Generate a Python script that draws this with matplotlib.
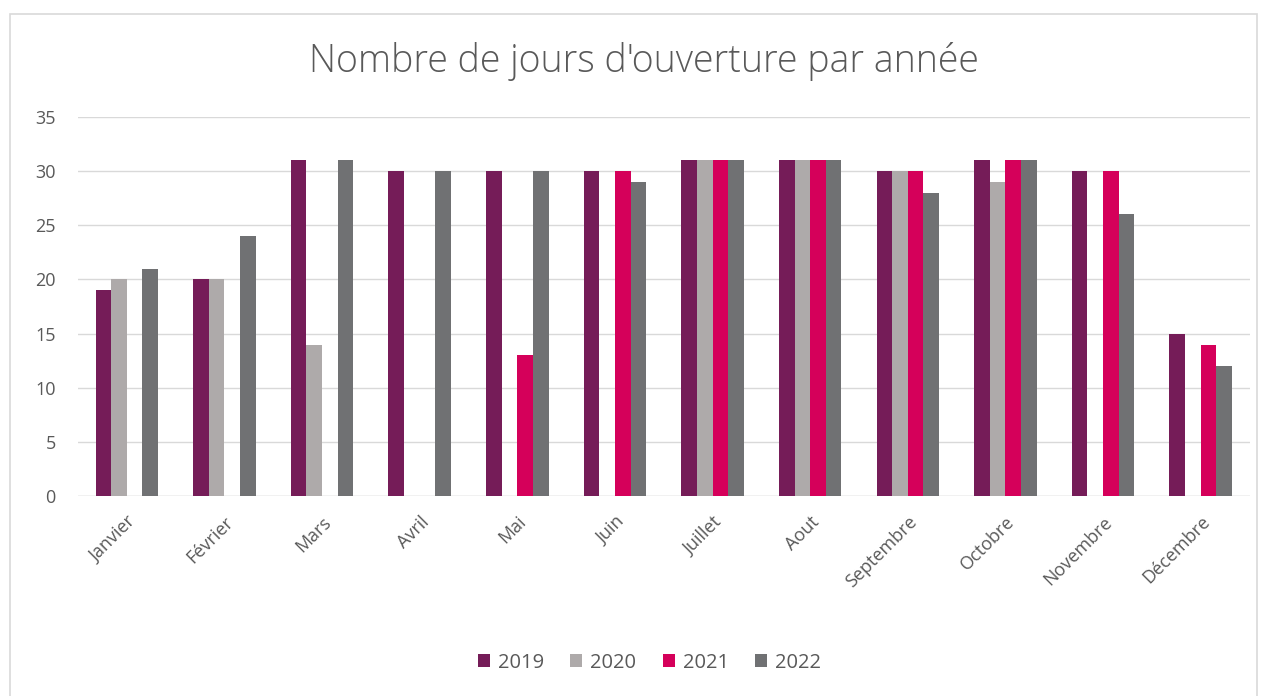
import numpy as np
import matplotlib.pyplot as plt
from matplotlib.patches import Rectangle

mois = ['Janvier', 'Février', 'Mars', 'Avril', 'Mai', 'Juin', 'Juillet',
        'Aout', 'Septembre', 'Octobre', 'Novembre', 'Décembre']
annees = ['2019', '2020', '2021', '2022']
v2019 = [19, 20, 31, 30, 30, 30, 31, 31, 30, 31, 30, 15]
v2020 = [20, 20, 14, 0, 0, 0, 31, 31, 30, 29, 0, 0]
v2021 = [0, 0, 0, 0, 13, 30, 31, 31, 30, 31, 30, 14]
v2022 = [21, 24, 31, 30, 30, 29, 31, 31, 28, 31, 26, 12]
couleurs = ['#751C58', '#AEAAAA', '#D5005A', '#707173']

plt.rcParams['font.family'] = ['Open Sans', 'DejaVu Sans']

fig = plt.figure(figsize=(12.66, 6.96), dpi=100)
ax = fig.add_axes([0.0616, 0.287, 0.9254, 0.545])

# cadre du graphique
fig.patches.append(Rectangle((0.008, -0.01), 0.985, 0.99, transform=fig.transFigure,
                             fill=False, edgecolor='#D9D9D9', lw=1.2))

x = np.arange(len(mois))
w = 0.16
for i, (vals, c) in enumerate(zip([v2019, v2020, v2021, v2022], couleurs)):
    ax.bar(x + (i - 1.5) * w, vals, w, color=c, label=annees[i], zorder=3)

ax.set_xlim(-0.5, len(mois) - 0.5)
ax.set_ylim(0, 35)
ax.set_yticks(range(0, 36, 5))
ax.grid(axis='y', color='#D9D9D9', lw=1, zorder=0)
for s in ax.spines.values():
    s.set_visible(False)
ax.axhline(0, color='#D9D9D9', lw=1, zorder=2)
ax.tick_params(length=0, labelsize=13, colors='#595959', pad=12)
ax.tick_params(axis='y', pad=16)
ax.set_xticks(x)
ax.set_xticklabels(mois, rotation=45, ha='right', rotation_mode='anchor')

fig.text(0.509, 0.912, "Nombre de jours d'ouverture par année", ha='center', va='center',
         fontsize=27, color='#595959', fontweight='light')

fig.legend(loc='center', bbox_to_anchor=(0.513, 0.048), ncol=4, frameon=False,
           fontsize=14.5, labelcolor='#595959', handlelength=0.6, handleheight=0.6,
           handletextpad=0.4, columnspacing=1.3)

fig.savefig('out.png', dpi=100)
